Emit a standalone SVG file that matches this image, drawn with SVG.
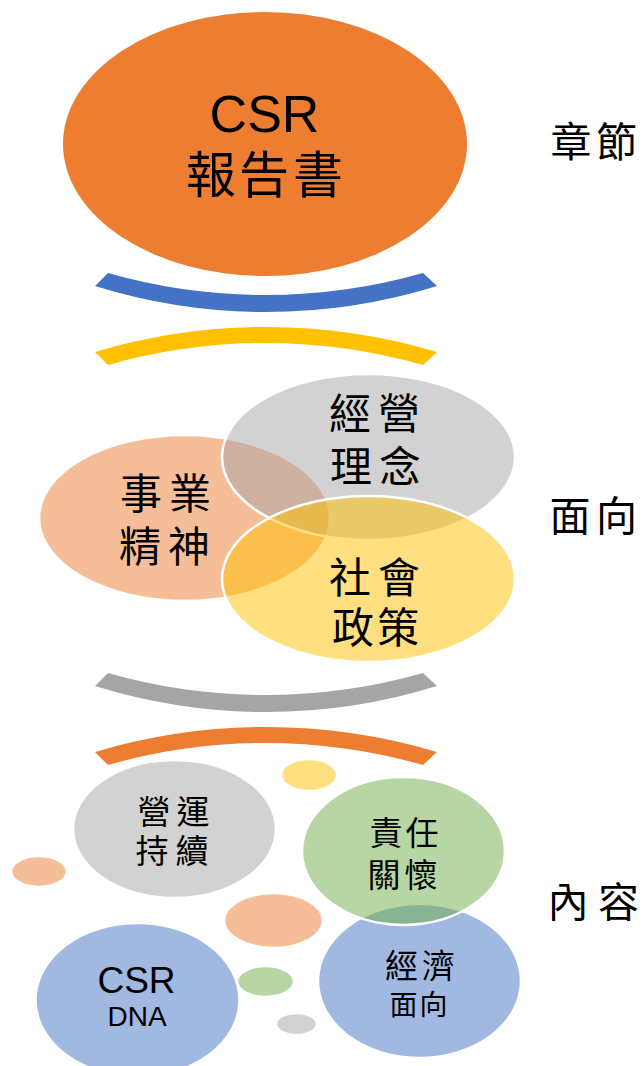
<svg xmlns="http://www.w3.org/2000/svg" width="644" height="1066" viewBox="0 0 644 1066">
<style>
.cjk{font-family:"Noto Sans CJK TC","Noto Sans CJK SC",sans-serif;fill:#000;text-anchor:middle}
.lat{font-family:"Liberation Sans",Arial,sans-serif;fill:#000;text-anchor:middle}
.semi{fill-opacity:0.5;stroke:#fff;stroke-width:2.5}
</style>
<rect width="644" height="1066" fill="#fff"/>
<g id="connectors">
<path fill="#4472C4" d="M95,286 A575.3,575.3 0 0 0 437,286 L423,273 A574.8,574.8 0 0 1 108,273 Z"/>
<path fill="#FFC000" d="M95,352 A597,597 0 0 1 437,352 L423,365 A574.8,574.8 0 0 0 108,365 Z"/>
<path fill="#A5A5A5" d="M95,686 A575.3,575.3 0 0 0 437,686 L423,673 A574.8,574.8 0 0 1 108,673 Z"/>
<path fill="#ED7D31" d="M95,752 A597,597 0 0 1 437,752 L423,765 A574.8,574.8 0 0 0 108,765 Z"/>
</g>
<g id="csr-report">
<ellipse cx="265" cy="144" rx="202" ry="132" fill="#ED7D31"/>
<text class="lat" x="264.5" y="132" font-size="52">CSR</text>
<text class="cjk" x="211 264 318" y="192.5" font-size="50">報告書</text>
</g>
<g id="label-chapter"><text class="cjk" x="571 616.5" y="156.6" font-size="41">章節</text></g>
<g id="label-aspect"><text class="cjk" x="570 616.5" y="531" font-size="41">面向</text></g>
<g id="label-content"><text class="cjk" x="568 618.5" y="917" font-size="41">內容</text></g>
<g id="venn-spirit">
<ellipse class="semi" cx="184.5" cy="518" rx="145.5" ry="83" fill="#ED7D31"/>
</g>
<g id="venn-philosophy">
<ellipse class="semi" cx="368.5" cy="457" rx="146.5" ry="83" fill="#A5A5A5"/>
</g>
<g id="venn-social">
<ellipse class="semi" cx="368.5" cy="579" rx="146.5" ry="83" fill="#FFC000"/>
</g>
<g id="venn-text">
<text class="cjk" x="141 190" y="509" font-size="42">事業</text>
<text class="cjk" x="140 189" y="562" font-size="42">精神</text>
<text class="cjk" x="350 399" y="429" font-size="42">經營</text>
<text class="cjk" x="351 400" y="482" font-size="42">理念</text>
<text class="cjk" x="350 399" y="593" font-size="42">社會</text>
<text class="cjk" x="353 398" y="643" font-size="42">政策</text>
</g>
<g id="dot-yellow"><ellipse class="semi" cx="309" cy="775" rx="28" ry="16" fill="#FFC000"/></g>
<g id="dot-peach-small"><ellipse class="semi" cx="39" cy="871.5" rx="28" ry="15.5" fill="#ED7D31"/></g>
<g id="dot-peach-medium"><ellipse class="semi" cx="273.5" cy="920.5" rx="49.5" ry="27.5" fill="#ED7D31"/></g>
<g id="dot-gray"><ellipse class="semi" cx="296.5" cy="1024" rx="20.5" ry="11" fill="#A5A5A5"/></g>
<g id="operation">
<ellipse class="semi" cx="174.5" cy="829" rx="101.5" ry="69" fill="#A5A5A5"/>
<text class="cjk" x="154 193" y="823.5" font-size="33">營運</text>
<text class="cjk" x="152 192" y="862.5" font-size="33">持續</text>
</g>
<g id="csr-dna">
<ellipse class="semi" cx="137.5" cy="1000" rx="102" ry="77" fill="#4472C4"/>
<text class="lat" x="136.5" y="993" font-size="37">CSR</text>
<text class="lat" x="137" y="1026" font-size="28">DNA</text>
</g>
<g id="dot-green"><ellipse class="semi" cx="265.5" cy="981.5" rx="28.5" ry="15.5" fill="#70AD47"/></g>
<g id="economy">
<ellipse class="semi" cx="419.5" cy="981" rx="101.5" ry="77" fill="#4472C4"/>
<text class="cjk" x="401.5 438.5" y="977.5" font-size="33">經濟</text>
<text class="cjk" x="403.5 433.5" y="1014.6" font-size="28">面向</text>
</g>
<g id="responsibility">
<ellipse class="semi" cx="403.5" cy="851" rx="101.5" ry="74" fill="#70AD47"/>
<text class="cjk" x="386 422" y="844.5" font-size="33">責任</text>
<text class="cjk" x="384 421" y="886.5" font-size="33">關懷</text>
</g>
</svg>
